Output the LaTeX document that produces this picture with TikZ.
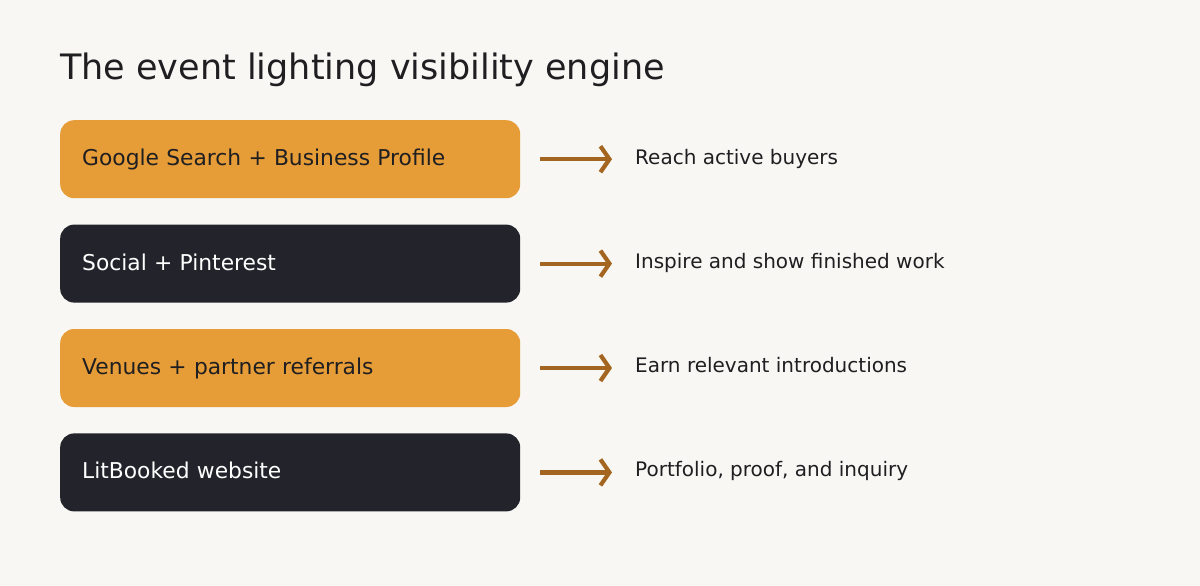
\documentclass[tikz,border=0pt]{standalone}
\usepackage{fontspec}
\setmainfont{DejaVu Sans}
\usepackage{xcolor}
\usetikzlibrary{arrows.meta,positioning}

\definecolor{paper}{HTML}{F8F7F3}
\definecolor{amber}{HTML}{E69C37}
\definecolor{ink}{HTML}{23242B}
\definecolor{bronze}{HTML}{A3651F}
\definecolor{txt}{HTML}{1F1F22}

\begin{document}
\begin{tikzpicture}[x=1pt, y=1pt,
  channel/.style={rounded corners=14pt, minimum width=460pt, minimum height=78pt,
                  text width=416pt, align=left, inner xsep=22pt,
                  text height=16pt, text depth=3pt,
                  font=\fontsize{21.8}{26}\selectfont},
  warm/.style={channel, fill=amber, text=txt},
  dark/.style={channel, fill=ink, text=white},
  goal/.style={anchor=west, inner sep=0pt, text height=14.6pt, text depth=0pt,
               text=txt, font=\fontsize{20}{24}\selectfont},
  flow/.style={-{Straight Barb[length=9pt, width=26pt]}, line width=4.2pt,
               draw=bronze, shorten <=20pt, shorten >=23pt},
  node distance=26pt
]
  \useasboundingbox[fill=paper] (0,0) rectangle (1200,-586);
  \node[anchor=base west, inner sep=0pt, text=txt,
        font=\fontsize{35}{42}\selectfont] (title) at (60,-80)
        {The event lighting visibility engine};

  \node[warm, anchor=north west] (google) at (60,-120) {Google Search + Business Profile};
  \node[dark, below=of google] (social) {Social + Pinterest};
  \node[warm, below=of social] (venues) {Venues + partner referrals};
  \node[dark, below=of venues] (site) {LitBooked website};

  \node[goal] (google goal) at (635,-157) {Reach active buyers};
  \node[goal] (social goal) at (635,-261) {Inspire and show finished work};
  \node[goal] (venues goal) at (635,-365) {Earn relevant introductions};
  \node[goal] (site goal)   at (635,-469) {Portfolio, proof, and inquiry};

  \draw[flow] (google.east) -- (google goal.west |- google.east);
  \draw[flow] (social.east) -- (social goal.west |- social.east);
  \draw[flow] (venues.east) -- (venues goal.west |- venues.east);
  \draw[flow] (site.east) -- (site goal.west |- site.east);
\end{tikzpicture}
\end{document}
